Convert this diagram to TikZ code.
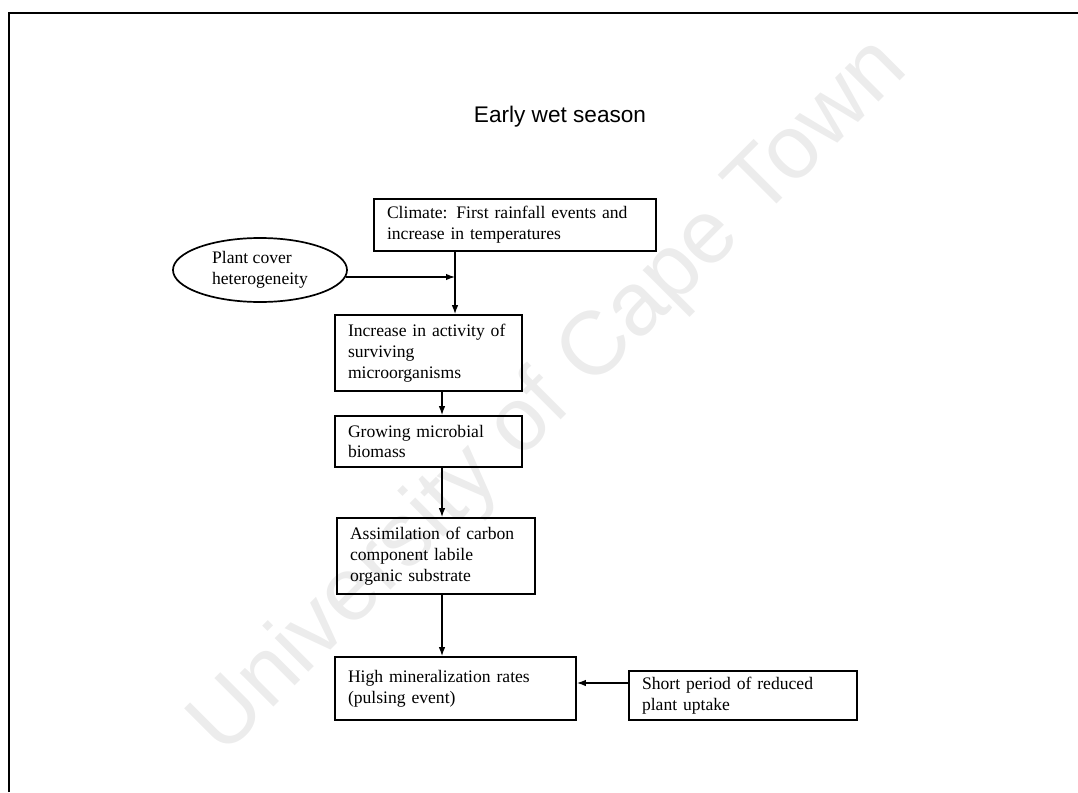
\documentclass[tikz,border=0pt]{standalone}
\usepackage{fontspec}
\setmainfont{Liberation Serif}
\newfontfamily\headfont{Liberation Sans}
\usetikzlibrary{arrows.meta,shapes.geometric}

\newcommand{\boxfont}{\fontsize{17.6}{20.8}\selectfont}

\begin{document}
\begin{tikzpicture}[x=1pt,y=-1pt,
  box/.style={draw,rectangle,line width=1.7pt,inner xsep=13pt,inner ysep=0pt,align=left,font=\boxfont},
  oval/.style={draw,ellipse,line width=1.7pt,inner sep=0pt,align=left,font=\boxfont},
  link/.style={line width=1.3pt,-{Latex[length=9pt,width=6.5pt]}},
  frame/.style={line width=2pt}]
  \useasboundingbox (0,0) rectangle (1078,792);
  \node[rotate=45,text=gray!15,font=\headfont\fontsize{90}{90}\selectfont] (mark) at (550,398) {University of Cape Town};
  \draw[frame] (9,792) -- (9,13) -- (1078,13);
  \node[font=\headfont\fontsize{22.6}{27}\selectfont] (title) at (560,117) {Early wet season};
  \node[box,text width=256pt,minimum height=52pt] (clim) at (515,225) {Climate: First rainfall events and\\increase in temperatures};
  \node[oval,minimum width=174pt,minimum height=64pt] (plant) at (260,270) {Plant cover\\heterogeneity};
  \node[box,text width=161pt,minimum height=76pt] (inc) at (428.5,353) {Increase in activity of\\surviving\\microorganisms};
  \node[box,text width=161pt,minimum height=51pt] (grow) at (428.5,441.5) {Growing microbial\\biomass};
  \node[box,text width=172pt,minimum height=76pt] (assim) at (436,556) {Assimilation of carbon\\component labile\\organic substrate};
  \node[box,text width=215pt,minimum height=63pt] (high) at (455.5,688.5) {High mineralization rates\\(pulsing event)};
  \node[box,text width=202pt,minimum height=49pt] (short) at (743,695.5) {Short period of reduced\\plant uptake};
  \coordinate (upper) at (455,0);
  \coordinate (lower) at (442,0);
  \coordinate (feed) at (0,277);
  \coordinate (tap) at (0,683);
  \draw[link] (clim.south -| upper) -- (inc.north -| upper);
  \draw[link] ([xshift=-2pt]plant.east |- feed) -- (upper |- feed);
  \draw[link] (inc.south -| lower) -- (grow.north -| lower);
  \draw[link] (grow.south -| lower) -- (assim.north -| lower);
  \draw[link] (assim.south -| lower) -- (high.north -| lower);
  \draw[link] (short.west |- tap) -- (high.east |- tap);
\end{tikzpicture}
\end{document}
